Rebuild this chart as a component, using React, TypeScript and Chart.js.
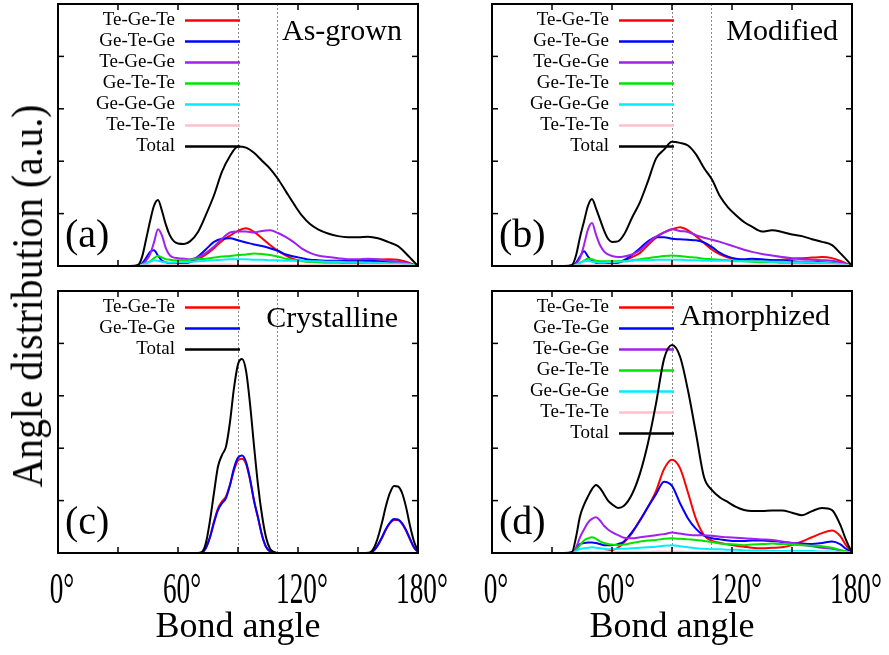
import React, { useEffect, useRef } from 'react';
import { Chart, registerables } from 'chart.js';

Chart.register(...registerables);

// Bond angle grid (degrees) shared by the as-grown, modified and amorphized panels
const ANGLES = [0, 36, 40, 42, 44, 46, 48, 50, 52, 54, 56, 58, 60, 63, 66, 70, 74, 78, 82, 86, 90, 94, 98, 102, 106, 110, 114, 118, 122, 126, 130, 135, 140, 145, 150, 155, 160, 165, 170, 174, 177, 180];

// (a) As-grown
const A_TGT = [0, 0, 0, 0.01, 0.01, 0.01, 0.02, 0.02, 0.02, 0.02, 0.03, 0.03, 0.04, 0.05, 0.07, 0.13, 0.22, 0.34, 0.48, 0.58, 0.67, 0.72, 0.65, 0.53, 0.4, 0.29, 0.2, 0.13, 0.1, 0.08, 0.08, 0.08, 0.09, 0.09, 0.1, 0.11, 0.12, 0.13, 0.12, 0.08, 0.04, 0];
const A_GTG = [0, 0, 0, 0.05, 0.15, 0.27, 0.3, 0.2, 0.1, 0.07, 0.05, 0.05, 0.05, 0.06, 0.08, 0.18, 0.32, 0.46, 0.52, 0.53, 0.49, 0.45, 0.41, 0.38, 0.34, 0.29, 0.22, 0.18, 0.15, 0.12, 0.11, 0.1, 0.1, 0.1, 0.1, 0.1, 0.09, 0.08, 0.06, 0.04, 0.02, 0];
const A_TGG = [0, 0, 0, 0.03, 0.1, 0.22, 0.45, 0.7, 0.58, 0.33, 0.2, 0.16, 0.15, 0.14, 0.13, 0.17, 0.25, 0.37, 0.52, 0.64, 0.66, 0.66, 0.64, 0.67, 0.68, 0.63, 0.55, 0.45, 0.33, 0.25, 0.2, 0.17, 0.15, 0.13, 0.13, 0.14, 0.13, 0.1, 0.08, 0.06, 0.03, 0];
const A_GTT = [0, 0, 0, 0.02, 0.05, 0.09, 0.15, 0.19, 0.16, 0.13, 0.12, 0.11, 0.11, 0.11, 0.12, 0.13, 0.14, 0.16, 0.18, 0.19, 0.21, 0.22, 0.24, 0.23, 0.21, 0.18, 0.14, 0.11, 0.09, 0.08, 0.07, 0.06, 0.06, 0.05, 0.05, 0.05, 0.05, 0.05, 0.04, 0.03, 0.02, 0];
const A_GGG = [0, 0, 0, 0.02, 0.05, 0.08, 0.11, 0.1, 0.08, 0.07, 0.06, 0.06, 0.07, 0.07, 0.08, 0.09, 0.1, 0.11, 0.12, 0.13, 0.13, 0.13, 0.12, 0.12, 0.11, 0.11, 0.1, 0.1, 0.1, 0.09, 0.09, 0.08, 0.08, 0.07, 0.07, 0.06, 0.06, 0.05, 0.05, 0.04, 0.02, 0];
const A_TTT = [0, 0, 0, 0.01, 0.01, 0.02, 0.02, 0.02, 0.02, 0.02, 0.02, 0.02, 0.02, 0.02, 0.02, 0.02, 0.02, 0.03, 0.03, 0.03, 0.02, 0.02, 0.02, 0.02, 0.02, 0.02, 0.02, 0.02, 0.02, 0.02, 0.02, 0.02, 0.02, 0.02, 0.02, 0.02, 0.02, 0.02, 0.02, 0.01, 0.01, 0];
const A_TOTAL = [0, 0, 0.02, 0.17, 0.5, 0.85, 1.15, 1.26, 1.05, 0.78, 0.58, 0.47, 0.43, 0.42, 0.47, 0.65, 0.98, 1.35, 1.8, 2.1, 2.28, 2.26, 2.16, 2.01, 1.86, 1.66, 1.42, 1.18, 0.96, 0.8, 0.7, 0.62, 0.57, 0.55, 0.55, 0.56, 0.53, 0.46, 0.38, 0.24, 0.12, 0];

// (b) Modified
const B_TGT = [0, 0, 0, 0, 0.01, 0.01, 0.01, 0.01, 0.02, 0.02, 0.02, 0.03, 0.04, 0.06, 0.1, 0.17, 0.25, 0.4, 0.54, 0.64, 0.7, 0.74, 0.68, 0.57, 0.44, 0.31, 0.22, 0.16, 0.13, 0.11, 0.1, 0.1, 0.11, 0.12, 0.14, 0.15, 0.16, 0.17, 0.15, 0.1, 0.05, 0];
const B_GTG = [0, 0, 0, 0.06, 0.18, 0.28, 0.18, 0.1, 0.06, 0.05, 0.05, 0.05, 0.06, 0.07, 0.11, 0.21, 0.34, 0.47, 0.55, 0.55, 0.52, 0.51, 0.5, 0.49, 0.45, 0.36, 0.25, 0.18, 0.14, 0.13, 0.14, 0.13, 0.11, 0.1, 0.09, 0.08, 0.08, 0.07, 0.06, 0.04, 0.02, 0];
const B_TGG = [0, 0, 0, 0.04, 0.15, 0.4, 0.7, 0.82, 0.6, 0.4, 0.28, 0.22, 0.19, 0.17, 0.18, 0.22, 0.3, 0.44, 0.56, 0.64, 0.7, 0.67, 0.65, 0.59, 0.54, 0.5, 0.46, 0.41, 0.36, 0.31, 0.27, 0.23, 0.2, 0.17, 0.15, 0.13, 0.12, 0.11, 0.1, 0.07, 0.04, 0];
const B_GTT = [0, 0, 0, 0.02, 0.06, 0.1, 0.14, 0.13, 0.1, 0.09, 0.09, 0.09, 0.09, 0.09, 0.09, 0.11, 0.13, 0.15, 0.17, 0.19, 0.2, 0.19, 0.17, 0.16, 0.14, 0.13, 0.12, 0.11, 0.1, 0.09, 0.08, 0.07, 0.07, 0.06, 0.06, 0.06, 0.05, 0.05, 0.05, 0.03, 0.02, 0];
const B_GGG = [0, 0, 0, 0.02, 0.06, 0.09, 0.1, 0.08, 0.07, 0.06, 0.06, 0.07, 0.07, 0.08, 0.09, 0.1, 0.11, 0.11, 0.12, 0.12, 0.12, 0.12, 0.11, 0.11, 0.1, 0.1, 0.1, 0.1, 0.09, 0.09, 0.09, 0.09, 0.08, 0.08, 0.07, 0.07, 0.07, 0.06, 0.05, 0.04, 0.02, 0];
const B_TTT = [0, 0, 0, 0.01, 0.01, 0.02, 0.02, 0.02, 0.02, 0.02, 0.02, 0.02, 0.02, 0.02, 0.02, 0.02, 0.02, 0.02, 0.03, 0.03, 0.03, 0.02, 0.02, 0.02, 0.02, 0.02, 0.02, 0.02, 0.02, 0.02, 0.02, 0.02, 0.02, 0.02, 0.02, 0.02, 0.02, 0.02, 0.02, 0.01, 0.01, 0];
const B_TOTAL = [0, 0, 0.02, 0.2, 0.55, 0.85, 1.15, 1.28, 1.1, 0.89, 0.68, 0.52, 0.46, 0.47, 0.6, 0.92, 1.22, 1.62, 2.05, 2.22, 2.37, 2.35, 2.3, 2.13, 1.87, 1.65, 1.33, 1.12, 0.97, 0.84, 0.75, 0.66, 0.68, 0.65, 0.6, 0.57, 0.51, 0.46, 0.4, 0.25, 0.13, 0];

// (c) Crystalline, on its own angle grid
const C_ANGLES = [0, 70, 72, 74, 76, 78, 80, 82, 84, 86, 88, 90, 92, 94, 96, 98, 100, 102, 104, 106, 108, 110, 150, 154, 156, 158, 160, 162, 164, 166, 168, 170, 172, 174, 176, 178, 180];
const C_TGT = [0, 0, 0.01, 0.1, 0.31, 0.6, 0.85, 0.98, 1.08, 1.3, 1.58, 1.77, 1.8, 1.7, 1.4, 1.0, 0.67, 0.34, 0.12, 0.03, 0, 0, 0, 0, 0, 0.05, 0.15, 0.29, 0.45, 0.57, 0.63, 0.63, 0.56, 0.43, 0.26, 0.1, 0.02];
const C_GTG = [0, 0, 0.01, 0.1, 0.3, 0.58, 0.82, 0.95, 1.05, 1.3, 1.62, 1.82, 1.86, 1.74, 1.42, 1.0, 0.68, 0.34, 0.12, 0.03, 0, 0, 0, 0, 0, 0.05, 0.16, 0.3, 0.46, 0.58, 0.65, 0.64, 0.57, 0.44, 0.27, 0.11, 0.02];
const C_TOTAL = [0, 0, 0.02, 0.2, 0.62, 1.15, 1.65, 1.87, 2.03, 2.5, 3.15, 3.6, 3.7, 3.48, 2.85, 2.05, 1.3, 0.72, 0.3, 0.08, 0.02, 0, 0, 0, 0.01, 0.1, 0.3, 0.58, 0.9, 1.15, 1.28, 1.27, 1.15, 0.88, 0.52, 0.22, 0.04];

// (d) Amorphized
const D_TGT = [0, 0, 0, 0, 0, 0.01, 0.01, 0.01, 0.01, 0.01, 0.02, 0.03, 0.05, 0.1, 0.2, 0.38, 0.63, 0.88, 1.18, 1.6, 1.78, 1.62, 1.15, 0.65, 0.34, 0.23, 0.19, 0.16, 0.14, 0.12, 0.1, 0.09, 0.1, 0.11, 0.15, 0.22, 0.3, 0.38, 0.43, 0.33, 0.15, 0];
const D_GTG = [0, 0, 0, 0.08, 0.17, 0.19, 0.2, 0.2, 0.19, 0.17, 0.15, 0.15, 0.15, 0.17, 0.22, 0.4, 0.62, 0.88, 1.12, 1.36, 1.28, 0.95, 0.66, 0.46, 0.33, 0.28, 0.26, 0.24, 0.23, 0.23, 0.24, 0.24, 0.23, 0.21, 0.19, 0.18, 0.17, 0.19, 0.22, 0.17, 0.08, 0];
const D_TGG = [0, 0, 0, 0.1, 0.3, 0.45, 0.58, 0.65, 0.68, 0.62, 0.52, 0.45, 0.4, 0.34, 0.29, 0.28, 0.3, 0.32, 0.34, 0.36, 0.39, 0.37, 0.35, 0.34, 0.34, 0.33, 0.31, 0.3, 0.29, 0.28, 0.27, 0.26, 0.25, 0.22, 0.19, 0.16, 0.13, 0.1, 0.08, 0.05, 0.03, 0];
const D_GTT = [0, 0, 0, 0.05, 0.15, 0.24, 0.28, 0.3, 0.27, 0.22, 0.19, 0.17, 0.16, 0.15, 0.16, 0.19, 0.22, 0.24, 0.25, 0.27, 0.28, 0.27, 0.26, 0.25, 0.23, 0.21, 0.18, 0.17, 0.16, 0.15, 0.16, 0.17, 0.18, 0.17, 0.16, 0.15, 0.14, 0.13, 0.1, 0.06, 0.03, 0];
const D_GGG = [0, 0, 0, 0.03, 0.08, 0.09, 0.1, 0.11, 0.1, 0.09, 0.08, 0.07, 0.07, 0.08, 0.08, 0.09, 0.1, 0.11, 0.12, 0.14, 0.15, 0.13, 0.11, 0.09, 0.08, 0.07, 0.07, 0.06, 0.06, 0.05, 0.05, 0.05, 0.04, 0.04, 0.04, 0.04, 0.04, 0.03, 0.03, 0.02, 0.01, 0];
const D_TTT = [0, 0, 0, 0.01, 0.01, 0.02, 0.02, 0.02, 0.02, 0.02, 0.02, 0.02, 0.02, 0.02, 0.02, 0.02, 0.02, 0.02, 0.03, 0.03, 0.03, 0.03, 0.02, 0.02, 0.02, 0.02, 0.02, 0.02, 0.02, 0.02, 0.02, 0.02, 0.02, 0.02, 0.02, 0.02, 0.02, 0.02, 0.02, 0.01, 0.01, 0];
const D_TOTAL = [0, 0, 0.02, 0.3, 0.7, 0.92, 1.08, 1.22, 1.3, 1.24, 1.12, 1.0, 0.93, 0.86, 0.9, 1.12, 1.52, 2.1, 2.85, 3.7, 3.97, 3.75, 3.1, 2.28, 1.45, 1.2, 1.06, 0.97, 0.88, 0.82, 0.8, 0.8, 0.81, 0.81, 0.77, 0.72, 0.8, 0.86, 0.82, 0.55, 0.25, 0];

// Axis marks and labels
const X_MARKS = [30, 60, 90, 120, 150];
const X_LABEL_VALUES = [0, 60, 120, 180];
const X_LABELS = ['0°', '60°', '120°', '180°'];
const Y_MARKS = [1, 2, 3, 4];
const GUIDE_ANGLES = [90, 109.47];

const TRIPLETS = ['Te-Ge-Te', 'Ge-Te-Ge', 'Te-Ge-Ge', 'Ge-Te-Te', 'Ge-Ge-Ge', 'Te-Te-Te', 'Total'];
const TRIPLET_COLORS = ['#ff0000', '#0000ff', '#a020f0', '#00e400', '#00eeff', '#ffc0cb', '#000000'];
const CRYSTAL_NAMES = ['Te-Ge-Te', 'Ge-Te-Ge', 'Total'];
const CRYSTAL_COLORS = ['#ff0000', '#0000ff', '#000000'];

const FONT = '"Liberation Serif", "Times New Roman", serif';

type Panel = {
  tag: string;
  title: string;
  angles: number[];
  values: number[][];
  names: string[];
  colors: string[];
  left: number;
  top: number;
  withAxis: boolean;
  titleInset: number;
  titleBase: number;
};

const FRAME_W = 360;
const FRAME_H = 262;
const PAD_L = 12;
const PAD_R = 40;
const PAD_T = 4;

const PANELS: Panel[] = [
  { tag: '(a)', title: 'As-grown', angles: ANGLES, values: [A_TGT, A_GTG, A_TGG, A_GTT, A_GGG, A_TTT, A_TOTAL], names: TRIPLETS, colors: TRIPLET_COLORS, left: 58, top: 4, withAxis: false, titleInset: 16, titleBase: 36 },
  { tag: '(b)', title: 'Modified', angles: ANGLES, values: [B_TGT, B_GTG, B_TGG, B_GTT, B_GGG, B_TTT, B_TOTAL], names: TRIPLETS, colors: TRIPLET_COLORS, left: 492, top: 4, withAxis: false, titleInset: 14, titleBase: 36 },
  { tag: '(c)', title: 'Crystalline', angles: C_ANGLES, values: [C_TGT, C_GTG, C_TOTAL], names: CRYSTAL_NAMES, colors: CRYSTAL_COLORS, left: 58, top: 291, withAxis: true, titleInset: 20, titleBase: 36 },
  { tag: '(d)', title: 'Amorphized', angles: ANGLES, values: [D_TGT, D_GTG, D_TGG, D_GTT, D_GGG, D_TTT, D_TOTAL], names: TRIPLETS, colors: TRIPLET_COLORS, left: 492, top: 291, withAxis: true, titleInset: 22, titleBase: 34 },
];

function seg(ctx: CanvasRenderingContext2D, x1: number, y1: number, x2: number, y2: number) {
  ctx.beginPath();
  ctx.moveTo(x1, y1);
  ctx.lineTo(x2, y2);
  ctx.stroke();
}

// Draws the gnuplot-style frame, inward ticks, guides, key and annotations
function panelDecor(p: Panel) {
  return {
    id: 'panelDecor',
    beforeDatasetsDraw(chart: any) {
      const { ctx, chartArea: a, scales } = chart;
      const x = scales.x;
      ctx.save();
      ctx.strokeStyle = '#8a8a8a';
      ctx.lineWidth = 1;
      ctx.setLineDash([2, 2]);
      for (const ang of GUIDE_ANGLES) {
        const px = Math.round(x.getPixelForValue(ang)) + 0.5;
        seg(ctx, px, a.top, px, a.bottom);
      }
      ctx.setLineDash([]);
      ctx.font = `19px ${FONT}`;
      ctx.textAlign = 'right';
      ctx.textBaseline = 'middle';
      chart.data.datasets.forEach((ds: any, i: number) => {
        const yy = a.top + 16.5 + i * 21;
        ctx.fillStyle = '#000';
        ctx.fillText(ds.label, a.left + 117, yy);
        ctx.strokeStyle = ds.borderColor;
        ctx.lineWidth = 2.5;
        seg(ctx, a.left + 127, yy, a.left + 182, yy);
      });
      ctx.restore();
    },
    afterDatasetsDraw(chart: any) {
      const { ctx, chartArea: a, scales } = chart;
      const x = scales.x;
      const y = scales.y;
      ctx.save();
      ctx.strokeStyle = '#000';
      ctx.lineWidth = 2;
      ctx.strokeRect(a.left, a.top, a.right - a.left, a.bottom - a.top);
      ctx.lineWidth = 1.5;
      for (const v of X_MARKS) {
        const px = x.getPixelForValue(v);
        seg(ctx, px, a.bottom, px, a.bottom - 6);
        seg(ctx, px, a.top, px, a.top + 6);
      }
      for (const v of Y_MARKS) {
        const py = y.getPixelForValue(v);
        seg(ctx, a.left, py, a.left + 6, py);
        seg(ctx, a.right, py, a.right - 6, py);
      }
      ctx.fillStyle = '#000';
      ctx.textBaseline = 'alphabetic';
      ctx.font = `30px ${FONT}`;
      ctx.textAlign = 'right';
      ctx.fillText(p.title, a.right - p.titleInset, a.top + p.titleBase);
      ctx.font = `40px ${FONT}`;
      ctx.textAlign = 'left';
      ctx.fillText(p.tag, a.left + 7, a.bottom - 19);
      if (p.withAxis) {
        ctx.textAlign = 'center';
        X_LABEL_VALUES.forEach((v, i) => {
          const px = x.getPixelForValue(v);
          ctx.save();
          ctx.translate(px + 4, a.bottom + 50);
          ctx.scale(0.62, 1);
          ctx.font = `44px ${FONT}`;
          ctx.fillText(X_LABELS[i], 0, 0);
          ctx.restore();
        });
        ctx.font = `36px ${FONT}`;
        ctx.fillText('Bond angle', (a.left + a.right) / 2, a.bottom + 84);
      }
      ctx.restore();
    },
  };
}

function PanelChart({ p }: { p: Panel }) {
  const ref = useRef<HTMLCanvasElement | null>(null);
  const padB = p.withAxis ? 655 - (p.top + FRAME_H) : 12;
  const w = FRAME_W + PAD_L + PAD_R;
  const h = FRAME_H + PAD_T + padB;

  useEffect(() => {
    if (!ref.current) return;
    const n = p.values.length;
    const chart = new Chart(ref.current, {
      type: 'line',
      data: {
        datasets: p.values.map((vals, i) => ({
          label: p.names[i],
          data: p.angles.map((ang, j) => ({ x: ang, y: vals[j] })),
          borderColor: p.colors[i],
          backgroundColor: p.colors[i],
          borderWidth: 2,
          pointRadius: 0,
          fill: false,
          cubicInterpolationMode: 'monotone',
          order: n - 1 - i,
        })),
      },
      options: {
        animation: false,
        responsive: false,
        devicePixelRatio: 1,
        events: [],
        layout: { padding: { left: PAD_L, right: PAD_R, top: PAD_T, bottom: padB } },
        scales: {
          x: { type: 'linear', min: 0, max: 180, display: false },
          y: { type: 'linear', min: 0, max: 5, display: false },
        },
        plugins: { legend: { display: false }, tooltip: { enabled: false } },
      },
      plugins: [panelDecor(p)],
    } as any);
    return () => chart.destroy();
  }, [p, padB]);

  return (
    <canvas
      ref={ref}
      width={w}
      height={h}
      style={{ position: 'absolute', left: p.left - PAD_L, top: p.top - PAD_T, width: w, height: h }}
    />
  );
}

export default function App() {
  return (
    <div style={{ position: 'absolute', left: 0, top: 0, width: 889, height: 655, background: '#fff', overflow: 'hidden' }}>
      {PANELS.map((p) => (
        <PanelChart key={p.tag} p={p} />
      ))}
      <div
        style={{
          position: 'absolute',
          left: 28,
          top: 296,
          transform: 'translate(-50%, -50%) rotate(-90deg) scaleX(0.9)',
          fontFamily: FONT,
          fontSize: 44,
          lineHeight: 1,
          whiteSpace: 'nowrap',
          color: '#000',
        }}
      >
        Angle distribution (a.u.)
      </div>
    </div>
  );
}
